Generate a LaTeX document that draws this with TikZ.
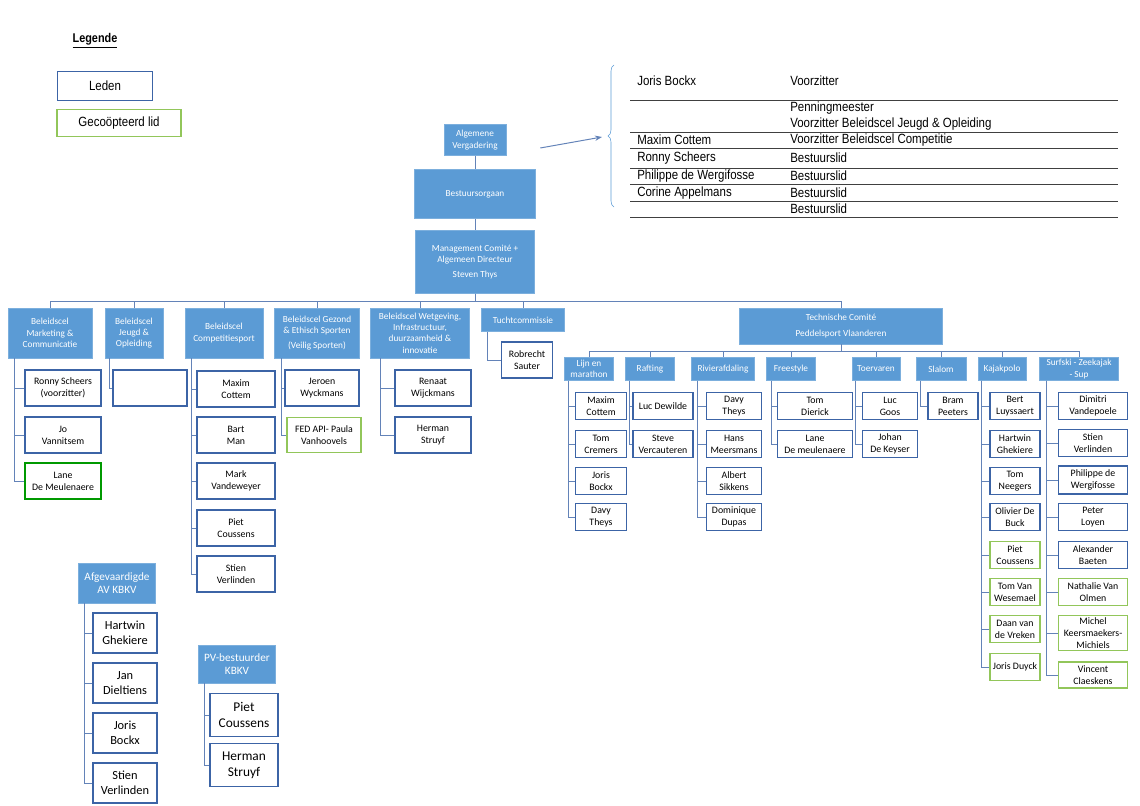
\documentclass[tikz,border=0pt]{standalone}
\usepackage{fontspec}
\setmainfont{Carlito}
\newfontfamily\tabfont{Liberation Sans}[FakeStretch=0.86]
\usetikzlibrary{decorations.pathreplacing,arrows.meta}
\newcommand\px[1]{#1*0.025cm}
\definecolor{kop}{HTML}{5B9BD5}
\definecolor{rand}{HTML}{3C64A6}
\definecolor{coop}{HTML}{92C65A}
\tikzset{
  hdr/.style={fill=kop,draw=kop!80!white,text=white,align=center,inner sep=1pt,
    font=\fontsize{6.6}{8}\selectfont},
  mem/.style={draw=rand,line width=0.9pt,fill=white,align=center,inner sep=1pt,
    font=\fontsize{7}{8.5}\selectfont,minimum width=\px{#1},minimum height=\px{27}},
  mem/.default=60,
  coopt/.style={mem=#1,draw=coop},
  coopt/.default=60,
  coopg/.style={mem=#1,draw=green!60!black},
  conn/.style={draw=rand!80!white,line width=0.7pt},
  rij/.style={draw=black!75,line width=0.6pt}
}
\begin{document}
\begin{tikzpicture}[x=0.025cm,y=-0.025cm]
\useasboundingbox (0,0) rectangle (1140,806);

% legende
\node[font=\fontsize{9}{10}\selectfont\tabfont\bfseries] (leg) at (95,41) {\underline{Legende}};
\node[mem=95,minimum height=\px{29},font=\fontsize{9.5}{11}\selectfont\tabfont] (legL) at (105,86) {Leden};
\node[coopt=124,minimum height=\px{27},font=\fontsize{9.5}{11}\selectfont\tabfont] (legG) at (119,123) {Gecoöpteerd lid};

% top
\node[hdr,minimum width=\px{62},minimum height=\px{31}] (av) at (475,140) {Algemene\\Vergadering};
\node[hdr,minimum width=\px{121},minimum height=\px{49}] (bo) at (475,194) {Bestuursorgaan};
\node[hdr,minimum width=\px{119},minimum height=\px{63}] (mc) at (475,262) {Management Comité +\\Algemeen Directeur\\[3pt]Steven Thys};
\draw[conn] (av) -- (bo);
\draw[conn] (bo) -- (mc);

% bestuur
\coordinate (pijl) at (602,137);
\draw[conn,-{Stealth[length=5pt]}] (av.east) ++(34,8) -- (pijl);
\draw[draw=kop,decorate,decoration={brace,amplitude=\px{6}}] (614,207) -- (614,65);
\foreach \y in {100,132,148,168,184,201,217}
  \draw[rij] (630,\y) -- (1118,\y);
\begin{scope}[every node/.style={anchor=west,inner sep=0pt,font=\fontsize{9.5}{11}\selectfont\tabfont}]
  \node (n1) at (637,81) {Joris Bockx};        \node (f1) at (790,81) {Voorzitter};
  \node (f2) at (790,108) {Penningmeester};
  \node (f2b) at (790,124) {Voorzitter Beleidscel Jeugd \& Opleiding};
  \node (n3) at (637,140) {Maxim Cottem};      \node (f3) at (790,140) {Voorzitter Beleidscel Competitie};
  \node (n4) at (637,158) {Ronny Scheers};     \node (f4) at (790,158) {Bestuurslid};
  \node (n5) at (637,176) {Philippe de Wergifosse}; \node (f5) at (790,176) {Bestuurslid};
  \node (n6) at (637,193) {Corine Appelmans};  \node (f6) at (790,193) {Bestuurslid};
  \node (f7) at (790,209) {Bestuurslid};
\end{scope}

% beleidscellen
\node[hdr,minimum width=\px{84},minimum height=\px{50}] (mkt) at (50,333) {Beleidscel\\Marketing \&\\Communicatie};
\node[hdr,minimum width=\px{58},minimum height=\px{50}] (jgd) at (134,333) {Beleidscel\\Jeugd \&\\Opleiding};
\node[hdr,minimum width=\px{78},minimum height=\px{50}] (cmp) at (224,333) {Beleidscel\\Competitiesport};
\node[hdr,minimum width=\px{85},minimum height=\px{50}] (gez) at (317,333) {Beleidscel Gezond\\\& Ethisch Sporten\\[3pt](Veilig Sporten)};
\node[hdr,minimum width=\px{99},minimum height=\px{50}] (wet) at (420,333) {Beleidscel Wetgeving,\\Infrastructuur,\\duurzaamheid \&\\innovatie};
\node[hdr,minimum width=\px{83},minimum height=\px{23}] (tuc) at (523,320) {Tuchtcommissie};
\node[hdr,minimum width=\px{203},minimum height=\px{36}] (tc) at (841,326) {Technische Comité\\[3pt]Peddelsport Vlaanderen};
\foreach \h in {mkt,jgd,cmp,gez,wet,tuc,tc}
  \draw[conn] (mc.south) -- ++(0,8) -| (\h.north);

% leden beleidscellen
\foreach \t/\s/\y [count=\i] in {{Ronny Scheers\\(voorzitter)}/mem/388,{Jo\\Vannitsem}/mem/435,{Lane\\De Meulenaere}/coopg/481}{
  \node[\s=76,minimum height=\px{36}] (mk\i) at (63,\y) {\t};
  \draw[conn] ([xshift=\px{7}]mkt.south west) |- (mk\i.west);
}
\node[mem=74,minimum height=\px{36}] (jg1) at (150,388) {};
\draw[conn] ([xshift=\px{5}]jgd.south west) |- (jg1.west);
\foreach \t/\y [count=\i] in {{Maxim\\Cottem}/389,{Bart\\Man}/435,{Mark\\Vandeweyer}/481,{Piet\\Coussens}/528,{Stien\\Verlinden}/574}{
  \node[mem=78,minimum height=\px{36}] (cp\i) at (236,\y) {\t};
  \draw[conn] ([xshift=\px{7}]cmp.south west) |- (cp\i.west);
}
\node[mem=74,minimum height=\px{36}] (gz1) at (322,388) {Jeroen\\Wyckmans};
\node[coopt=74,minimum height=\px{35}] (gz2) at (324,435) {FED API- Paula\\Vanhoovels};
\foreach \c in {gz1,gz2}
  \draw[conn] ([xshift=\px{7}]gez.south west) |- (\c.west);
\node[mem=76,minimum height=\px{36}] (wt1) at (433,388) {Renaat\\Wijckmans};
\node[mem=76,minimum height=\px{36}] (wt2) at (433,435) {Herman\\Struyf};
\foreach \c in {wt1,wt2}
  \draw[conn] ([xshift=\px{10}]wet.south west) |- (\c.west);
\node[mem=51,minimum height=\px{36}] (tc1) at (527,360) {Robrecht\\Sauter};
\draw[conn] ([xshift=\px{6}]tuc.south west) |- (tc1.west);

% disciplines
\foreach \n/\t/\x/\w in {lm/{Lijn en\\marathon}/589/49,rf/Rafting/650/49,ra/Rivierafdaling/723/63,fs/Freestyle/791/49,
  tv/Toervaren/876/48,sl/Slalom/941/50,kp/Kajakpolo/1002/48,sf/{Surfski - Zeekajak\\- Sup}/1079/79}{
  \node[hdr,minimum width=\px{\w},minimum height=\px{23}] (\n) at (\x,369) {\t};
  \draw[conn] (tc.south) -- ++(0,7) -| (\n.north);
}
\foreach \t/\y [count=\i] in {{Maxim\\Cottem}/406,{Tom\\Cremers}/444,{Joris\\Bockx}/481,{Davy\\Theys}/517}{
  \node[mem=51] (lm\i) at (601,\y) {\t};
  \draw[conn] ([xshift=\px{4}]lm.south west) |- (lm\i.west);
}
\foreach \t/\y [count=\i] in {{Luc Dewilde}/406,{Steve\\Vercauteren}/444}{
  \node[mem=60] (rf\i) at (663,\y) {\t};
  \draw[conn] ([xshift=\px{4}]rf.south west) |- (rf\i.west);
}
\foreach \t/\y [count=\i] in {{Davy\\Theys}/406,{Hans\\Meersmans}/444,{Albert\\Sikkens}/481,{Dominique\\Dupas}/517}{
  \node[mem=55] (ra\i) at (734,\y) {\t};
  \draw[conn] ([xshift=\px{6}]ra.south west) |- (ra\i.west);
}
\foreach \t/\y [count=\i] in {{Tom\\Dierick}/406,{Lane\\De meulenaere}/444}{
  \node[mem=75] (fs\i) at (815,\y) {\t};
  \draw[conn] ([xshift=\px{5}]fs.south west) |- (fs\i.west);
}
\foreach \t/\y [count=\i] in {{Luc\\Goos}/406,{Johan\\De Keyser}/444}{
  \node[mem=55] (tv\i) at (890,\y) {\t};
  \draw[conn] ([xshift=\px{4}]tv.south west) |- (tv\i.west);
}
\node[mem=50] (sl1) at (953,406) {Bram\\Peeters};
\draw[conn] ([xshift=\px{5}]sl.south west) |- (sl1.west);
\foreach \t/\s/\y [count=\i] in {{Bert\\Luyssaert}/mem/406,{Hartwin\\Ghekiere}/mem/444,{Tom\\Neegers}/mem/481,{Olivier De\\Buck}/mem/517,
  {Piet\\Coussens}/coopt/555,{Tom Van\\Wesemael}/coopt/592,{Daan van\\de Vreken}/coopt/629,{Joris Duyck}/coopt/667}{
  \node[\s=50] (kp\i) at (1015,\y) {\t};
  \draw[conn] ([xshift=\px{4}]kp.south west) |- (kp\i.west);
}
\foreach \t/\s/\y/\h [count=\i] in {{Dimitri\\Vandepoele}/mem/406/27,{Stien\\Verlinden}/mem/443/27,{Philippe de\\Wergifosse}/mem/480/28,
  {Peter\\Loyen}/mem/517/27,{Alexander\\Baeten}/mem/555/27,{Nathalie Van\\Olmen}/coopt/592/27,
  {Michel\\Keersmaekers-\\Michiels}/coopt/633/35,{Vincent\\Claeskens}/coopt/675/26}{
  \node[\s=69,minimum height=\px{\h}] (sf\i) at (1093,\y) {\t};
  \draw[conn] ([xshift=\px{7}]sf.south west) |- (sf\i.west);
}

% afgevaardigden
\node[hdr,minimum width=\px{77},minimum height=\px{40},font=\fontsize{8}{9.5}\selectfont] (afg) at (117,583) {Afgevaardigde\\AV KBKV};
\foreach \t/\y [count=\i] in {{Hartwin\\Ghekiere}/633,{Jan\\Dieltiens}/683,{Joris\\Bockx}/733,{Stien\\Verlinden}/783}{
  \node[mem=64,minimum height=\px{40},font=\fontsize{8.8}{11}\selectfont] (af\i) at (125,\y) {\t};
  \draw[conn] ([xshift=\px{6}]afg.south west) |- (af\i.west);
}
\node[hdr,minimum width=\px{77},minimum height=\px{38},font=\fontsize{8}{9.5}\selectfont] (pvb) at (237,664) {PV-bestuurder\\KBKV};
\foreach \t/\y [count=\i] in {{Piet\\Coussens}/715,{Herman\\Struyf}/765}{
  \node[mem=68,minimum height=\px{43},font=\fontsize{9.5}{11.5}\selectfont] (pv\i) at (244,\y) {\t};
  \draw[conn] ([xshift=\px{6}]pvb.south west) |- (pv\i.west);
}
\end{tikzpicture}
\end{document}
